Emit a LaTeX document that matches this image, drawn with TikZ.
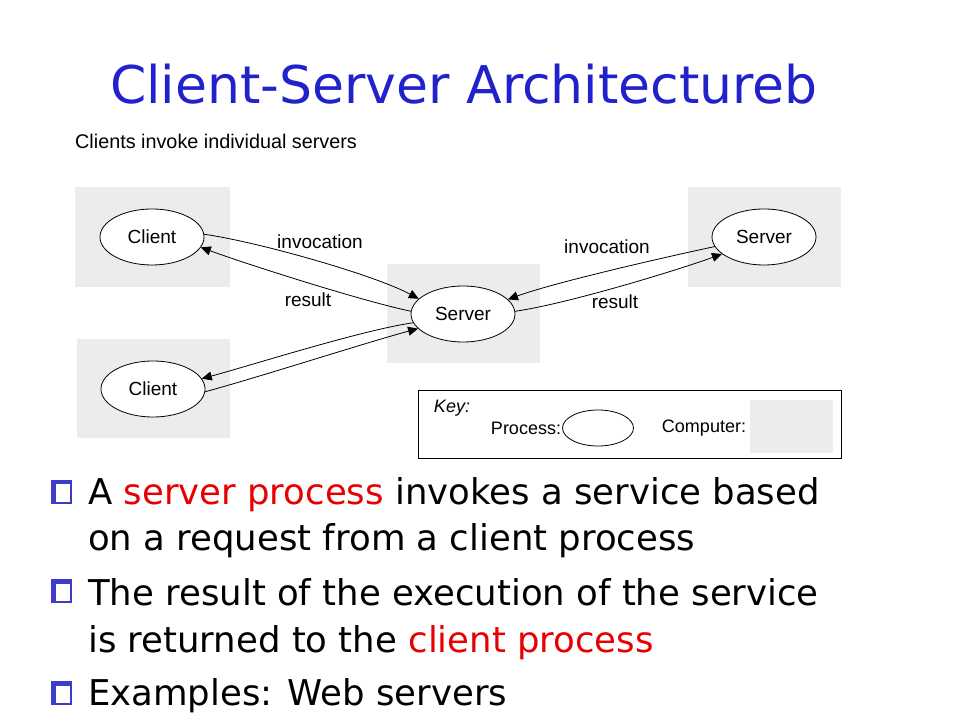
\documentclass[tikz,border=0pt]{standalone}
\usepackage{fontspec}
\setmainfont{DejaVu Sans}
\newfontfamily\arialf{Liberation Sans}
\usetikzlibrary{shapes.geometric,arrows.meta}
\definecolor{titleblue}{RGB}{34,34,204}
\definecolor{bulblue}{RGB}{60,60,200}
\definecolor{boxgray}{RGB}{236,236,236}
\definecolor{hired}{RGB}{230,0,0}
\tikzset{
  x=1pt,y=1pt,
  computer/.style={fill=boxgray,draw=none},
  proc/.style={ellipse,draw,line width=0.8pt,fill=white,minimum width=104pt,minimum height=56pt,inner sep=0pt,font=\arialf\fontsize{19}{22}\selectfont},
  lbl/.style={font=\arialf\fontsize{19}{22}\selectfont,inner sep=0pt},
  klbl/.style={font=\arialf\fontsize{18}{22}\selectfont,inner sep=0pt},
  conn/.style={line width=0.8pt,-{Triangle[length=10pt,width=9pt]},looseness=0.6},
  btext/.style={anchor=base west,inner sep=0pt,font=\fontsize{35.5}{40}\selectfont},
}
\begin{document}
\begin{tikzpicture}
\useasboundingbox (0,0) rectangle (960,720);
% title
\node[anchor=base west,inner sep=0pt,text=titleblue,font=\fontsize{52}{58}\selectfont] (title) at (110,616) {Client-Server Architectureb};
\node[anchor=base west,inner sep=0pt,font=\arialf\fontsize{19.8}{22}\selectfont] (sub) at (75,571) {Clients invoke individual servers};
% computers
\fill[computer] (75,433) rectangle (230,533);
\fill[computer] (77,282) rectangle (230,381);
\fill[computer] (387,357) rectangle (540,456);
\fill[computer] (688,433) rectangle (841,533);
% processes
\node[proc] (c1) at (152,483) {Client};
\node[proc] (c2) at (153,331) {Client};
\node[proc] (s) at (463,406) {Server};
\node[proc] (r) at (764,483) {Server};
% connectors
\draw[conn] (c1.3) to[out=-8,in=152] (s.161);
\draw[conn] (s.177) to[out=168,in=-20] (c1.-12);
\draw[conn] (s.190) to[out=188,in=15] (c2.12);
\draw[conn] (c2.-3) to[out=15,in=195] (s.198);
\draw[conn] (r.191) to[out=192,in=20] (s.18);
\draw[conn] (s.3) to[out=8,in=200] (r.202);
% labels
\node[lbl] (l1) at (320,478) {invocation};
\node[lbl] (l2) at (308,420) {result};
\node[lbl] (l3) at (607,473) {invocation};
\node[lbl] (l4) at (615,418) {result};
% key
\draw[line width=1pt] (418,261) rectangle (841,329);
\node[klbl,font=\arialf\itshape\fontsize{18}{22}\selectfont] (key) at (452,312) {Key:};
\node[klbl] (kp) at (526,292) {Process:};
\node[ellipse,draw,line width=0.8pt,minimum width=71pt,minimum height=36pt,inner sep=0pt] (ke) at (598,292) {};
\node[klbl] (kc) at (704,292) {Computer:};
\fill[computer] (750,267) rectangle (833,320);
% bullets
\foreach \yy in {216,117,15} {
  \fill[bulblue] (51,\yy) rectangle +(21,24);
  \fill[white] (55.5,\yy+2) rectangle +(14.5,17.5);
}
\node[btext] (b1) at (88,215) {A \textcolor{hired}{server process} invokes a service based};
\node[btext] (b2) at (88,169) {on a request from a client process};
\node[btext] (b3) at (88,115) {The result of the execution of the service};
\node[btext] (b4) at (88,68) {is returned to the \textcolor{hired}{client process}};
\node[btext] (b5) at (88,15) {Examples: Web servers};
\end{tikzpicture}
\end{document}
